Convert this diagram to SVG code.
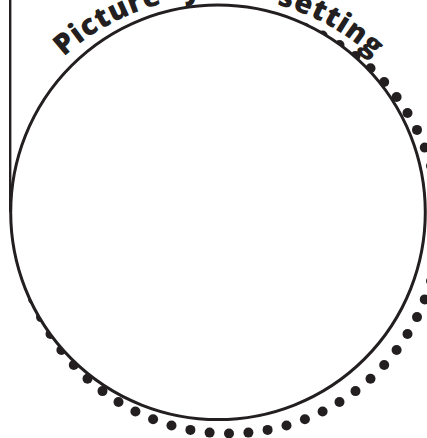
<svg xmlns="http://www.w3.org/2000/svg" width="427" height="438" viewBox="0 0 427 438">
  <style>
    .dot { fill: #231f20; }
    .main { fill: #ffffff; stroke: #231f20; stroke-width: 3; }
    .line { stroke: #231f20; stroke-width: 2.4; fill: none; }
    .title { font-family: "Open Sans", "DejaVu Sans", sans-serif; font-weight: 800; font-size: 29px; letter-spacing: 0.8px; word-spacing: 13px; fill: #231f20; }
  </style>
  <defs>
    <path id="arc" d="M -10 225 A 228 228 0 0 1 446 225"/>
    <circle id="d" r="5"/>
  </defs>
  <rect width="427" height="438" fill="#ffffff"/>
  <g id="connectors">
    <line class="line" x1="10.2" y1="0" x2="10.2" y2="212"/>
  </g>
  <g id="dotted-ring" class="dot" transform="translate(2 -1.5)">
    <use href="#d" x="227" y="435"/>
    <use href="#d" x="246.4" y="434.1"/>
    <use href="#d" x="265.6" y="431.4"/>
    <use href="#d" x="284.5" y="427"/>
    <use href="#d" x="302.9" y="420.8"/>
    <use href="#d" x="320.6" y="413"/>
    <use href="#d" x="337.5" y="403.5"/>
    <use href="#d" x="353.5" y="392.6"/>
    <use href="#d" x="368.5" y="380.2"/>
    <use href="#d" x="382.2" y="366.5"/>
    <use href="#d" x="394.6" y="351.5"/>
    <use href="#d" x="405.5" y="335.5"/>
    <use href="#d" x="415" y="318.6"/>
    <use href="#d" x="422.8" y="300.9"/>
    <use href="#d" x="429" y="282.5"/>
    <use href="#d" x="433.4" y="263.6"/>
    <use href="#d" x="436.1" y="244.4"/>
    <use href="#d" x="437" y="225"/>
    <use href="#d" x="436.1" y="205.6"/>
    <use href="#d" x="433.4" y="186.4"/>
    <use href="#d" x="429" y="167.5"/>
    <use href="#d" x="422.8" y="149.1"/>
    <use href="#d" x="415" y="131.4"/>
    <use href="#d" x="405.5" y="114.5"/>
    <use href="#d" x="394.6" y="98.5"/>
    <use href="#d" x="382.2" y="83.5"/>
    <use href="#d" x="368.5" y="69.8"/>
    <use href="#d" x="353.5" y="57.4"/>
    <use href="#d" x="337.5" y="46.5"/>
    <use href="#d" x="320.6" y="37"/>
    <use href="#d" x="302.9" y="29.2"/>
    <use href="#d" x="284.5" y="23"/>
    <use href="#d" x="265.6" y="18.6"/>
    <use href="#d" x="246.4" y="15.9"/>
    <use href="#d" x="227" y="15"/>
    <use href="#d" x="207.6" y="15.9"/>
    <use href="#d" x="188.4" y="18.6"/>
    <use href="#d" x="169.5" y="23"/>
    <use href="#d" x="151.1" y="29.2"/>
    <use href="#d" x="133.4" y="37"/>
    <use href="#d" x="116.5" y="46.5"/>
    <use href="#d" x="100.5" y="57.4"/>
    <use href="#d" x="85.5" y="69.8"/>
    <use href="#d" x="71.8" y="83.5"/>
    <use href="#d" x="59.4" y="98.5"/>
    <use href="#d" x="48.5" y="114.5"/>
    <use href="#d" x="39" y="131.4"/>
    <use href="#d" x="31.2" y="149.1"/>
    <use href="#d" x="25" y="167.5"/>
    <use href="#d" x="20.6" y="186.4"/>
    <use href="#d" x="17.9" y="205.6"/>
    <use href="#d" x="17" y="225"/>
    <use href="#d" x="17.9" y="244.4"/>
    <use href="#d" x="20.6" y="263.6"/>
    <use href="#d" x="25" y="282.5"/>
    <use href="#d" x="31.2" y="300.9"/>
    <use href="#d" x="39" y="318.6"/>
    <use href="#d" x="48.5" y="335.5"/>
    <use href="#d" x="59.4" y="351.5"/>
    <use href="#d" x="71.8" y="366.5"/>
    <use href="#d" x="85.5" y="380.2"/>
    <use href="#d" x="100.5" y="392.6"/>
    <use href="#d" x="116.5" y="403.5"/>
    <use href="#d" x="133.4" y="413"/>
    <use href="#d" x="151.1" y="420.8"/>
    <use href="#d" x="169.5" y="427"/>
    <use href="#d" x="188.4" y="431.4"/>
    <use href="#d" x="207.6" y="434.1"/>
  </g>
  <g id="scene-circle">
    <circle class="main" cx="218" cy="212.3" r="207.3"/>
  </g>
  <g id="title">
    <text class="title"><textPath href="#arc" startOffset="189">Picture your setting</textPath></text>
  </g>
</svg>
